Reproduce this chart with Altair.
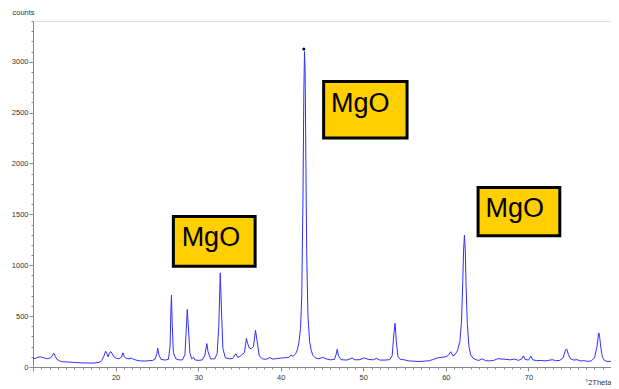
import altair as alt
import pandas as pd

# Diffractogram points (°2Theta, counts)
two_theta = [10.0, 10.3, 10.6, 10.9, 11.2, 11.5, 11.8, 12.1, 12.3, 12.45, 12.55, 12.7, 12.9, 13.2, 13.6,
             14.0, 14.5, 15.0, 15.5, 16.0, 16.5, 17.0, 17.5, 18.0, 18.3, 18.6, 18.8, 18.95, 19.1, 19.25,
             19.45, 19.6, 19.8, 20.1, 20.4, 20.7, 20.9, 21.05, 21.3, 21.6, 21.9, 22.2, 22.6, 23.0, 23.5,
             24.0, 24.5, 24.8, 25.0, 25.1, 25.25, 25.5, 26.0, 26.4, 26.6, 26.7, 26.77, 26.85, 27.0, 27.3,
             27.7, 28.1, 28.4, 28.55, 28.68, 28.8, 29.0, 29.2, 29.45, 29.6, 30.0, 30.5, 30.8, 31.05, 31.2,
             31.5, 32.0, 32.3, 32.5, 32.68, 32.85, 33.0, 33.3, 33.8, 34.2, 34.55, 34.8, 35.1, 35.35, 35.6,
             35.85, 36.0, 36.2, 36.45, 36.7, 36.95, 37.15, 37.4, 37.8, 38.2, 38.7, 39.0, 39.5, 40.0, 40.5,
             41.0, 41.25, 41.5, 41.8, 42.0, 42.2, 42.4, 42.55, 42.7, 42.8, 42.88, 42.96, 43.05, 43.15, 43.3,
             43.5, 43.7, 43.9, 44.2, 44.6, 45.1, 45.5, 46.0, 46.5, 46.7, 46.85, 47.0, 47.3, 48.0, 48.65,
             49.0, 49.6, 50.1, 50.6, 51.2, 51.6, 52.0, 52.6, 53.2, 53.5, 53.7, 53.85, 54.0, 54.2, 54.5,
             55.0, 55.5, 56.0, 56.5, 57.0, 57.5, 58.0, 58.5, 59.0, 59.5, 60.0, 60.3, 60.6, 60.85, 61.1,
             61.4, 61.7, 61.9, 62.05, 62.15, 62.25, 62.35, 62.45, 62.6, 62.8, 63.0, 63.3, 63.7, 64.0, 64.4,
             64.8, 65.3, 65.8, 66.3, 66.8, 67.3, 67.8, 68.3, 68.8, 69.2, 69.4, 69.6, 70.0, 70.3, 70.5,
             71.0, 71.5, 72.0, 72.5, 72.9, 73.3, 73.8, 74.2, 74.5, 74.65, 74.85, 75.1, 75.5, 75.9, 76.3,
             76.7, 77.2, 77.6, 78.0, 78.3, 78.5, 78.6, 78.75, 78.95, 79.2, 79.5, 80.0]
counts = [80, 85, 95, 100, 92, 85, 82, 90, 105, 130, 135, 105, 75, 60, 52,
          50, 48, 44, 42, 40, 40, 38, 40, 45, 60, 110, 155, 130, 100, 140,
          150, 130, 100, 85, 80, 95, 140, 100, 85, 80, 88, 75, 65, 60, 58,
          62, 65, 80, 130, 185, 120, 75, 68, 75, 200, 560, 705, 450, 140, 80,
          70, 70, 120, 350, 565, 420, 140, 80, 95, 70, 65, 70, 110, 230, 150,
          80, 80, 130, 400, 925, 500, 180, 90, 80, 85, 130, 95, 105, 125, 140,
          280, 230, 185, 180, 200, 360, 250, 110, 80, 75, 92, 78, 82, 88, 90,
          95, 118, 105, 130, 165, 240, 380, 700, 1700, 2700, 3100, 2900, 2000, 1100, 500,
          250, 160, 115, 90, 80, 95, 80, 70, 75, 120, 175, 110, 72, 68, 88,
          70, 72, 90, 75, 70, 85, 68, 68, 72, 110, 320, 430, 250, 100, 75,
          70, 60, 58, 55, 55, 58, 62, 75, 90, 95, 100, 115, 150, 110, 120,
          160, 250, 450, 850, 1150, 1295, 1150, 800, 420, 200, 120, 85, 70, 65, 80,
          62, 60, 65, 82, 78, 75, 70, 78, 65, 80, 110, 75, 68, 105, 72,
          62, 65, 60, 66, 72, 62, 65, 90, 170, 175, 120, 80, 68, 72, 60,
          62, 55, 60, 90, 200, 335, 320, 200, 100, 65, 55, 55]

# Annotation boxes ("MgO")
box_label = ["MgO", "MgO", "MgO"]
box_x1 = [27.0, 45.2, 63.9]
box_x2 = [36.9, 55.3, 73.8]
box_y1 = [990, 2250, 1290]
box_y2 = [1480, 2805, 1765]
text_x = [28.0, 46.1, 64.8]
text_y = [1185, 2510, 1478]

# Marker dot above the main peak
dot_x = [42.8]
dot_y = [3125]

spec = pd.DataFrame({"t": two_theta, "c": counts})
boxes = pd.DataFrame({"label": box_label, "x1": box_x1, "x2": box_x2, "y1": box_y1,
                      "y2": box_y2, "tx": text_x, "ty": text_y})
dot = pd.DataFrame({"x": dot_x, "y": dot_y})

FONT = "Liberation Sans"
W, H = 578, 346
xscale = alt.Scale(domain=[10, 80], nice=False, zero=False)
yscale = alt.Scale(domain=[0, 3400], nice=False)

xaxis = alt.Axis(
    values=list(range(10, 81)), tickCount=200, format="d",
    labelExpr="(datum.value % 10 === 0 && datum.value >= 20 && datum.value <= 70) ? datum.label : ''",
    tickSize={"condition": {"test": "datum.value % 10 === 0", "value": 4}, "value": 2},
    labelOverlap=False, labelBound=False, labelFlush=False,
    grid=False, title="°2Theta", titleFontSize=7.5, titleFontWeight="normal", titleFont=FONT,
    titleAnchor="start", titleAlign="right", titleBaseline="middle", titleX=W, titleY=15,
    labelFont=FONT, labelFontSize=7.5, labelColor="#333333", labelPadding=2,
    domainColor="#888888", tickColor="#888888", titleColor="#333333",
)
yaxis = alt.Axis(
    values=list(range(0, 3401, 100)), tickCount=200, format="d",
    labelExpr="(datum.value % 500 === 0) ? datum.label : ''",
    tickSize={"condition": {"test": "datum.value % 500 === 0", "value": 4}, "value": 2},
    labelOverlap=False, labelBound=False, labelFlush=False,
    grid=False, title="counts", titleFontSize=7.5, titleFontWeight="normal", titleFont=FONT,
    titleAngle=0, titleAlign="left", titleBaseline="middle", titleX=-21, titleY=-9,
    labelFont=FONT, labelFontSize=7.5, labelColor="#333333", labelPadding=1,
    domainColor="#888888", tickColor="#888888", titleColor="#333333",
)

line = alt.Chart(spec).mark_line(color="#2f2fff", strokeWidth=1, clip=True).encode(
    x=alt.X("t:Q", scale=xscale, axis=xaxis),
    y=alt.Y("c:Q", scale=yscale, axis=yaxis),
)

dots = alt.Chart(dot).mark_circle(color="black", size=9, opacity=1).encode(
    x=alt.X("x:Q", scale=xscale), y=alt.Y("y:Q", scale=yscale)
)

rects = alt.Chart(boxes).mark_rect(fill="#FFCF00", stroke="black", strokeWidth=3).encode(
    x=alt.X("x1:Q", scale=xscale), x2="x2:Q",
    y=alt.Y("y1:Q", scale=yscale), y2="y2:Q",
)

texts = alt.Chart(boxes).mark_text(align="left", baseline="alphabetic", fontSize=27,
                                   font=FONT, color="black").encode(
    x=alt.X("tx:Q", scale=xscale), y=alt.Y("ty:Q", scale=yscale), text="label:N"
)

chart = alt.layer(line, dots, rects, texts).properties(
    width=W, height=H,
    autosize=alt.AutoSizeParams(type="none"),
    padding={"left": 25, "top": 13, "right": 0, "bottom": 20},
).configure_view(stroke="#aaaaaa", strokeWidth=1).configure(background="white")

chart.save("out.html", embed_options={"renderer": "svg", "actions": False})
